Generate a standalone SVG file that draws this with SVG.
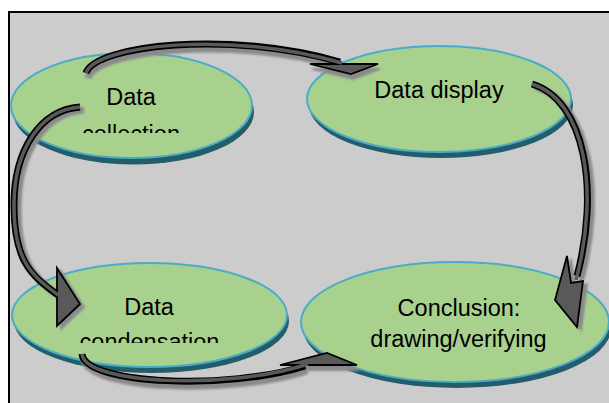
<svg xmlns="http://www.w3.org/2000/svg" xmlns:xlink="http://www.w3.org/1999/xlink" width="609" height="403" viewBox="0 0 609 403">
  <style>
    .base { fill: #235c6b; }
    .face { fill: #a9d18e; stroke: #4bacc6; stroke-width: 2; }
    .label { font-family: "Liberation Sans", Arial, sans-serif; font-size: 23.5px; fill: #000; text-anchor: middle; }
    .band-out { fill: none; stroke: #000; stroke-width: 7; stroke-linecap: butt; }
    .band-in { fill: none; stroke: #595959; stroke-width: 3.5; stroke-linecap: butt; }
    .head { fill: #595959; stroke: #000; stroke-width: 1.8; stroke-linejoin: miter; }
  </style>
  <defs>
    <filter id="drop" x="-20%" y="-20%" width="140%" height="140%">
      <feFlood flood-color="#8a8a8a" result="c"/>
      <feComposite in="c" in2="SourceAlpha" operator="in" result="s"/>
      <feGaussianBlur in="s" stdDeviation="0.8"/>
    </filter>
    <clipPath id="clipCollection"><rect x="0" y="0" width="609" height="133"/></clipPath>
    <clipPath id="clipCondensation"><rect x="0" y="200" width="609" height="143"/></clipPath>

    <!-- curved arrow shapes -->
    <g id="arrowTop">
      <path class="band-out" d="M 86 73 C 95 45, 230 30, 340 62"/>
      <polygon class="head" points="310,64 378,64 351,74"/>
      <path class="band-in" d="M 86 73 C 95 45, 230 30, 342 63"/>
    </g>
    <g id="arrowRight">
      <path class="band-out" d="M 532 84 C 585 100, 600 190, 577 276"/>
      <polygon class="head" points="567,256 571,283 583,281 577,327 555,300"/>
      <path class="band-in" d="M 532 84 C 585 100, 600 190, 576 280"/>
    </g>
    <g id="arrowLeft">
      <path class="band-out" d="M 80 107 C 40 110, 14 150, 14 205 S 30 275, 58 295"/>
      <polygon class="head" points="57,268 80,304 57,326"/>
      <path class="band-in" d="M 80 107 C 40 110, 14 150, 14 205 S 30 275, 61 297"/>
    </g>
    <g id="arrowBottom">
      <path class="band-out" d="M 82 354 C 85 385, 230 390, 305 366"/>
      <polygon class="head" points="280,365 327,353 357,365"/>
      <path class="band-in" d="M 82 354 C 85 385, 230 390, 308 364"/>
    </g>
  </defs>

  <!-- frame -->
  <rect x="9" y="12" width="612" height="402" fill="#cccccc" stroke="#000" stroke-width="2"/>

  <!-- nodes -->
  <g id="node-collection">
    <ellipse class="base" cx="133.5" cy="112" rx="120.5" ry="52.5"/>
    <ellipse class="face" cx="131.5" cy="105.5" rx="120.5" ry="52.5"/>
    <text class="label" x="131" y="105">Data</text>
    <text class="label" x="131" y="142" clip-path="url(#clipCollection)">collection</text>
  </g>
  <g id="node-display">
    <ellipse class="base" cx="441" cy="105" rx="132" ry="53"/>
    <ellipse class="face" cx="439" cy="99" rx="132" ry="53"/>
    <text class="label" x="439" y="98">Data display</text>
  </g>
  <g id="node-condensation">
    <ellipse class="base" cx="151.5" cy="321" rx="137.5" ry="52"/>
    <ellipse class="face" cx="149.5" cy="315" rx="137.5" ry="52"/>
    <text class="label" x="149" y="315">Data</text>
    <text class="label" x="149.5" y="350" clip-path="url(#clipCondensation)">condensation</text>
  </g>
  <g id="node-conclusion">
    <ellipse class="base" cx="457" cy="328" rx="154" ry="60"/>
    <ellipse class="face" cx="455" cy="322" rx="154" ry="60"/>
    <text class="label" x="459" y="316">Conclusion:</text>
    <text class="label" x="458.5" y="347">drawing/verifying</text>
  </g>

  <!-- connectors -->
  <g id="connectors">
    <use xlink:href="#arrowTop" transform="translate(2,5)" filter="url(#drop)"/>
    <use xlink:href="#arrowRight" transform="translate(4,3)" filter="url(#drop)"/>
    <use xlink:href="#arrowLeft" transform="translate(4,3)" filter="url(#drop)"/>
    <use xlink:href="#arrowBottom" transform="translate(2,5)" filter="url(#drop)"/>
    <use xlink:href="#arrowTop"/>
    <use xlink:href="#arrowRight"/>
    <use xlink:href="#arrowLeft"/>
    <use xlink:href="#arrowBottom"/>
  </g>
</svg>
